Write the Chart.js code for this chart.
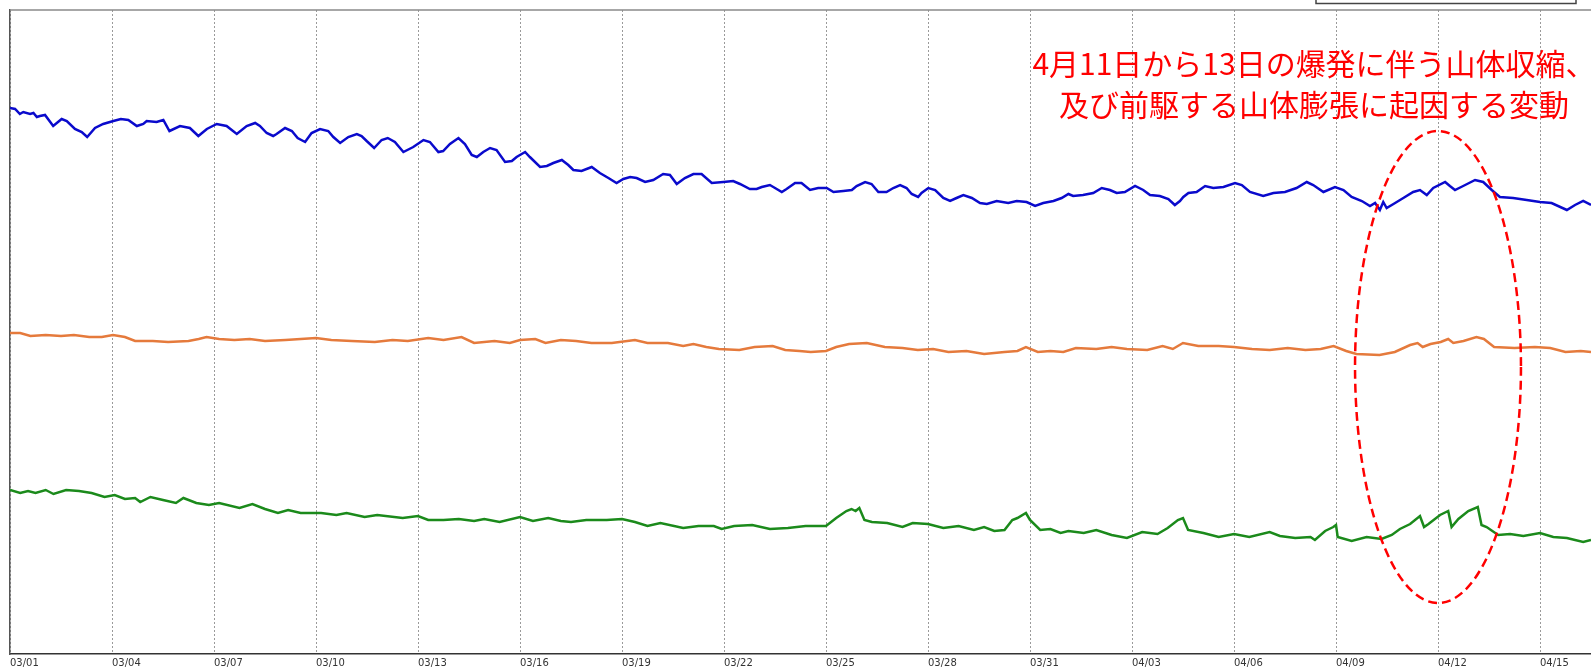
<!DOCTYPE html>
<html>
<head>
<meta charset="utf-8">
<script src="https://cdn.jsdelivr.net/npm/chart.js@4.4.0/dist/chart.umd.min.js"></script>
<style>
    html, body { margin: 0; padding: 0; background: #fff; }
    #wrap { position: relative; width: 1591px; height: 667px; }
</style>
</head>
<body>
<div id="wrap"><canvas id="tilt"></canvas></div>
<script>
// x = days since 03/01 00:00, y = offset (arbitrary units)
const tickLabels = ['03/01', '03/04', '03/07', '03/10', '03/13', '03/16', '03/19', '03/22',
    '03/25', '03/28', '03/31', '04/03', '04/06', '04/09', '04/12', '04/15'];
const tickDays = tickLabels.map((_, i) => i * 3);

// blue trace
const blueDays = [
    0.00, 0.15, 0.29, 0.39, 0.59, 0.69, 0.79, 0.88, 1.03, 1.27,
    1.52, 1.67, 1.91, 2.11, 2.27, 2.50, 2.74, 3.04, 3.26, 3.48,
    3.73, 3.92, 4.02, 4.31, 4.51, 4.69, 5.00, 5.29, 5.54, 5.79,
    6.08, 6.37, 6.67, 6.96, 7.21, 7.35, 7.55, 7.74, 7.84, 8.09,
    8.29, 8.46, 8.68, 8.87, 9.12, 9.36, 9.51, 9.71, 9.95, 10.20,
    10.34, 10.49, 10.71, 10.93, 11.11, 11.32, 11.57, 11.86, 12.16, 12.35,
    12.60, 12.74, 12.94, 13.19, 13.38, 13.58, 13.73, 13.92, 14.12, 14.31,
    14.56, 14.76, 14.90, 15.15, 15.29, 15.59, 15.79, 15.98, 16.23, 16.42,
    16.57, 16.81, 17.11, 17.35, 17.60, 17.84, 18.04, 18.24, 18.43, 18.68,
    18.92, 19.21, 19.41, 19.61, 19.85, 20.10, 20.34, 20.64, 20.98, 21.27,
    21.47, 21.76, 21.96, 22.11, 22.35, 22.50, 22.70, 22.84, 23.09, 23.28,
    23.53, 23.77, 24.02, 24.22, 24.51, 24.76, 24.90, 25.15, 25.34, 25.54,
    25.78, 25.98, 26.18, 26.37, 26.52, 26.71, 26.81, 27.01, 27.21, 27.45,
    27.65, 27.84, 28.04, 28.29, 28.53, 28.73, 29.02, 29.36, 29.61, 29.90,
    30.15, 30.39, 30.69, 30.93, 31.13, 31.27, 31.56, 31.86, 32.11, 32.35,
    32.55, 32.79, 33.09, 33.33, 33.53, 33.82, 34.07, 34.26, 34.41, 34.51,
    34.66, 34.90, 35.15, 35.39, 35.69, 36.03, 36.23, 36.47, 36.86, 37.16,
    37.50, 37.84, 38.14, 38.33, 38.63, 38.97, 39.22, 39.46, 39.76, 40.00,
    40.15, 40.29, 40.39, 40.49, 40.69, 40.98, 41.27, 41.47, 41.67, 41.86,
    42.21, 42.35, 42.50, 42.74, 43.09, 43.33, 43.58, 43.82, 44.21, 44.61,
    45.00, 45.34, 45.79, 46.03, 46.27, 46.50];
const blueVals = [
    546, 545, 540, 542, 540, 541, 537, 538, 539, 528,
    535, 533, 525, 522, 517, 526, 530, 533, 535, 534,
    528, 530, 533, 532, 534, 523, 528, 526, 518, 525,
    530, 528, 520, 528, 531, 528, 521, 518, 520, 526,
    523, 516, 512, 521, 525, 523, 517, 511, 517, 520,
    518, 513, 506, 514, 516, 512, 502, 507, 514, 512,
    502, 503, 510, 516, 510, 499, 497, 502, 506, 504,
    492, 493, 497, 502, 497, 487, 488, 491, 494, 489,
    484, 483, 487, 481, 476, 471, 475, 477, 476, 472,
    474, 480, 479, 470, 476, 480, 480, 471, 472, 473,
    470, 465, 465, 467, 469, 466, 462, 465, 471, 471,
    464, 466, 466, 462, 463, 464, 468, 472, 470, 462,
    462, 466, 469, 466, 460, 457, 461, 466, 464, 456,
    453, 456, 459, 456, 451, 450, 453, 451, 453, 452,
    448, 451, 453, 456, 460, 458, 459, 461, 466, 464,
    461, 462, 468, 464, 459, 458, 455, 449, 453, 457,
    461, 462, 468, 466, 467, 471, 469, 462, 458, 461,
    462, 466, 472, 469, 462, 467, 464, 457, 453, 448,
    451, 444, 452, 446, 450, 456, 462, 464, 459, 466,
    472, 468, 464, 468, 474, 472, 464, 457, 456, 454,
    452, 451, 444, 449, 453, 449];

// orange trace
const orangeDays = [
    0, 0.3, 0.6, 1.05, 1.5, 1.88, 2.33, 2.7, 3.03, 3.38,
    3.68, 4.2, 4.65, 5.25, 5.55, 5.78, 6.15, 6.6, 7.05, 7.5,
    8.1, 9.0, 9.45, 10.05, 10.73, 11.25, 11.7, 12.3, 12.75, 13.28,
    13.65, 14.25, 14.7, 15.0, 15.45, 15.75, 16.2, 16.65, 17.1, 17.7,
    18.38, 18.75, 19.35, 19.8, 20.1, 20.48, 20.85, 21.45, 21.9, 22.43,
    22.8, 23.22, 23.55, 24.0, 24.3, 24.68, 25.2, 25.73, 26.25, 26.7,
    27.15, 27.6, 28.13, 28.65, 29.25, 29.63, 29.88, 30.23, 30.6, 30.98,
    31.35, 31.95, 32.4, 32.85, 33.45, 33.9, 34.2, 34.5, 34.95, 35.55,
    36.0, 36.53, 37.05, 37.58, 38.1, 38.55, 38.93, 39.3, 39.6, 40.28,
    40.73, 41.18, 41.4, 41.55, 41.78, 42.08, 42.3, 42.45, 42.75, 43.13,
    43.35, 43.65, 44.25, 44.85, 45.3, 45.75, 46.2, 46.5];
const orangeVals = [
    321, 321, 318, 319, 318, 319, 317, 317, 319, 317,
    313, 313, 312, 313, 315, 317, 315, 314, 315, 313,
    314, 316, 314, 313, 312, 314, 313, 316, 314, 317,
    311, 313, 311, 314, 315, 311, 314, 313, 311, 311,
    314, 311, 311, 308, 310, 307, 305, 304, 307, 308,
    304, 303, 302, 303, 307, 310, 311, 307, 306, 304,
    305, 302, 303, 300, 302, 303, 307, 302, 303, 302,
    306, 305, 307, 305, 304, 308, 305, 311, 308, 308,
    307, 305, 304, 306, 304, 305, 308, 303, 300, 299,
    302, 309, 311, 307, 310, 312, 315, 311, 313, 317,
    315, 307, 306, 307, 306, 302, 303, 302];

// green trace
const greenDays = [
    0, 0.3, 0.53, 0.75, 1.05, 1.28, 1.65, 2.03, 2.4, 2.78,
    3.08, 3.38, 3.68, 3.83, 4.13, 4.5, 4.88, 5.1, 5.48, 5.85,
    6.15, 6.75, 7.13, 7.5, 7.88, 8.18, 8.55, 9.15, 9.6, 9.9,
    10.43, 10.8, 11.55, 12.0, 12.3, 12.75, 13.2, 13.65, 13.95, 14.4,
    15.0, 15.38, 15.83, 16.2, 16.5, 16.95, 17.55, 18.0, 18.38, 18.75,
    19.13, 19.8, 20.25, 20.7, 20.93, 21.3, 21.83, 22.35, 22.88, 23.4,
    24.0, 24.3, 24.6, 24.75, 24.87, 24.98, 25.13, 25.35, 25.8, 26.25,
    26.55, 27.0, 27.45, 27.9, 28.35, 28.65, 28.95, 29.25, 29.48, 29.63,
    29.88, 30.0, 30.3, 30.6, 30.9, 31.13, 31.58, 31.95, 32.4, 32.85,
    33.3, 33.75, 34.05, 34.35, 34.5, 34.65, 35.1, 35.55, 36.0, 36.45,
    37.05, 37.35, 37.8, 38.25, 38.38, 38.68, 38.92, 39.0, 39.05, 39.46,
    39.9, 40.34, 40.64, 40.88, 41.18, 41.47, 41.59, 41.72, 42.06, 42.3,
    42.4, 42.6, 42.89, 43.17, 43.28, 43.43, 43.77, 44.12, 44.51, 45.0,
    45.39, 45.79, 46.27, 46.5];
const greenVals = [
    164, 161, 163, 161, 164, 160, 164, 163, 161, 157,
    159, 155, 156, 152, 157, 154, 151, 156, 151, 149,
    151, 146, 150, 145, 141, 144, 141, 141, 139, 141,
    137, 139, 136, 138, 134, 134, 135, 133, 135, 132,
    137, 133, 136, 133, 132, 134, 134, 135, 132, 128,
    131, 126, 128, 128, 125, 128, 129, 125, 126, 128,
    128, 136, 143, 145, 143, 146, 134, 132, 131, 127,
    131, 130, 126, 128, 124, 127, 123, 124, 134, 136,
    141, 134, 124, 125, 121, 123, 121, 124, 119, 116,
    122, 120, 126, 134, 136, 124, 121, 117, 120, 117,
    122, 118, 116, 117, 114, 123, 127, 129, 117, 113,
    117, 115, 119, 125, 130, 138, 127, 130, 139, 143,
    127, 135, 143, 147, 129, 127, 119, 120, 118, 121,
    117, 116, 112, 114];

// annotation
const noteLines = ['4月11日から13日の爆発に伴う山体収縮、', '及び前駆する山体膨張に起因する変動'];
const noteCenter = [42, 287];   // day, value
const noteRadius = [2.44, 236]; // days, value units

const toPoints = (days, vals) => days.map((d, i) => ({x: d, y: vals[i]}));

const decor = {
    id: 'decor',
    afterDraw(chart) {
        const {ctx, chartArea: a, scales: {x, y}} = chart;
        ctx.save();
        // top frame line
        ctx.strokeStyle = '#8a8a8a';
        ctx.lineWidth = 1.5;
        ctx.beginPath();
        ctx.moveTo(a.left, a.top);
        ctx.lineTo(a.right, a.top);
        ctx.stroke();
        // box cut off at the top
        ctx.strokeStyle = '#444';
        ctx.strokeRect(1316, -10, 260, 13.5);
        // dashed ellipse
        const cx = x.getPixelForValue(noteCenter[0]);
        const cy = y.getPixelForValue(noteCenter[1]);
        const rx = x.getPixelForValue(noteCenter[0] + noteRadius[0]) - cx;
        const ry = cy - y.getPixelForValue(noteCenter[1] + noteRadius[1]);
        ctx.setLineDash([9, 5]);
        ctx.strokeStyle = '#ff0000';
        ctx.lineWidth = 2.5;
        ctx.beginPath();
        ctx.ellipse(cx, cy, rx, ry, 0, 0, Math.PI * 2);
        ctx.stroke();
        ctx.setLineDash([]);
        // note text
        ctx.fillStyle = '#ff0000';
        ctx.font = '30px "Noto Sans CJK JP"';
        ctx.textAlign = 'center';
        ctx.textBaseline = 'middle';
        noteLines.forEach((t, i) => ctx.fillText(t, 1314, 64 + i * 41));
        ctx.restore();
    }
};

const lineStyle = (color) => ({
    borderColor: color,
    borderWidth: 2.5,
    pointRadius: 0,
    tension: 0,
    fill: false
});

const chartTilt = new Chart(document.getElementById('tilt'), {
    type: 'line',
    data: {
        datasets: [
            {label: 'blue', data: toPoints(blueDays, blueVals), ...lineStyle('#0a0acc')},
            {label: 'orange', data: toPoints(orangeDays, orangeVals), ...lineStyle('#e57a3c')},
            {label: 'green', data: toPoints(greenDays, greenVals), ...lineStyle('#1b8a1b')}
        ]
    },
    options: {
        responsive: true,
        maintainAspectRatio: false,
        animation: false,
        layout: {padding: {top: 10, left: 10, right: 0, bottom: 0}},
        scales: {
            x: {
                type: 'linear',
                min: 0,
                max: 46.5,
                afterBuildTicks: (s) => { s.ticks = tickDays.map(v => ({value: v})); },
                afterFit: (s) => { s.height = 13; },
                grid: {color: '#9a9a9a', lineWidth: 1, drawTicks: false},
                border: {display: true, color: '#333', width: 1.5, dash: [2, 2]},
                ticks: {
                    align: 'start',
                    padding: 3,
                    maxRotation: 0,
                    autoSkip: false,
                    color: '#333',
                    font: {family: 'DejaVu Sans', size: 10},
                    callback: (v) => tickLabels[tickDays.indexOf(v)]
                }
            },
            y: {
                min: 0,
                max: 644,
                ticks: {display: false},
                grid: {display: false, drawTicks: false},
                border: {display: true, color: '#555', width: 1.5}
            }
        },
        plugins: {
            legend: {display: false},
            tooltip: {enabled: false}
        }
    },
    plugins: [decor]
});
</script>
</body>
</html>
